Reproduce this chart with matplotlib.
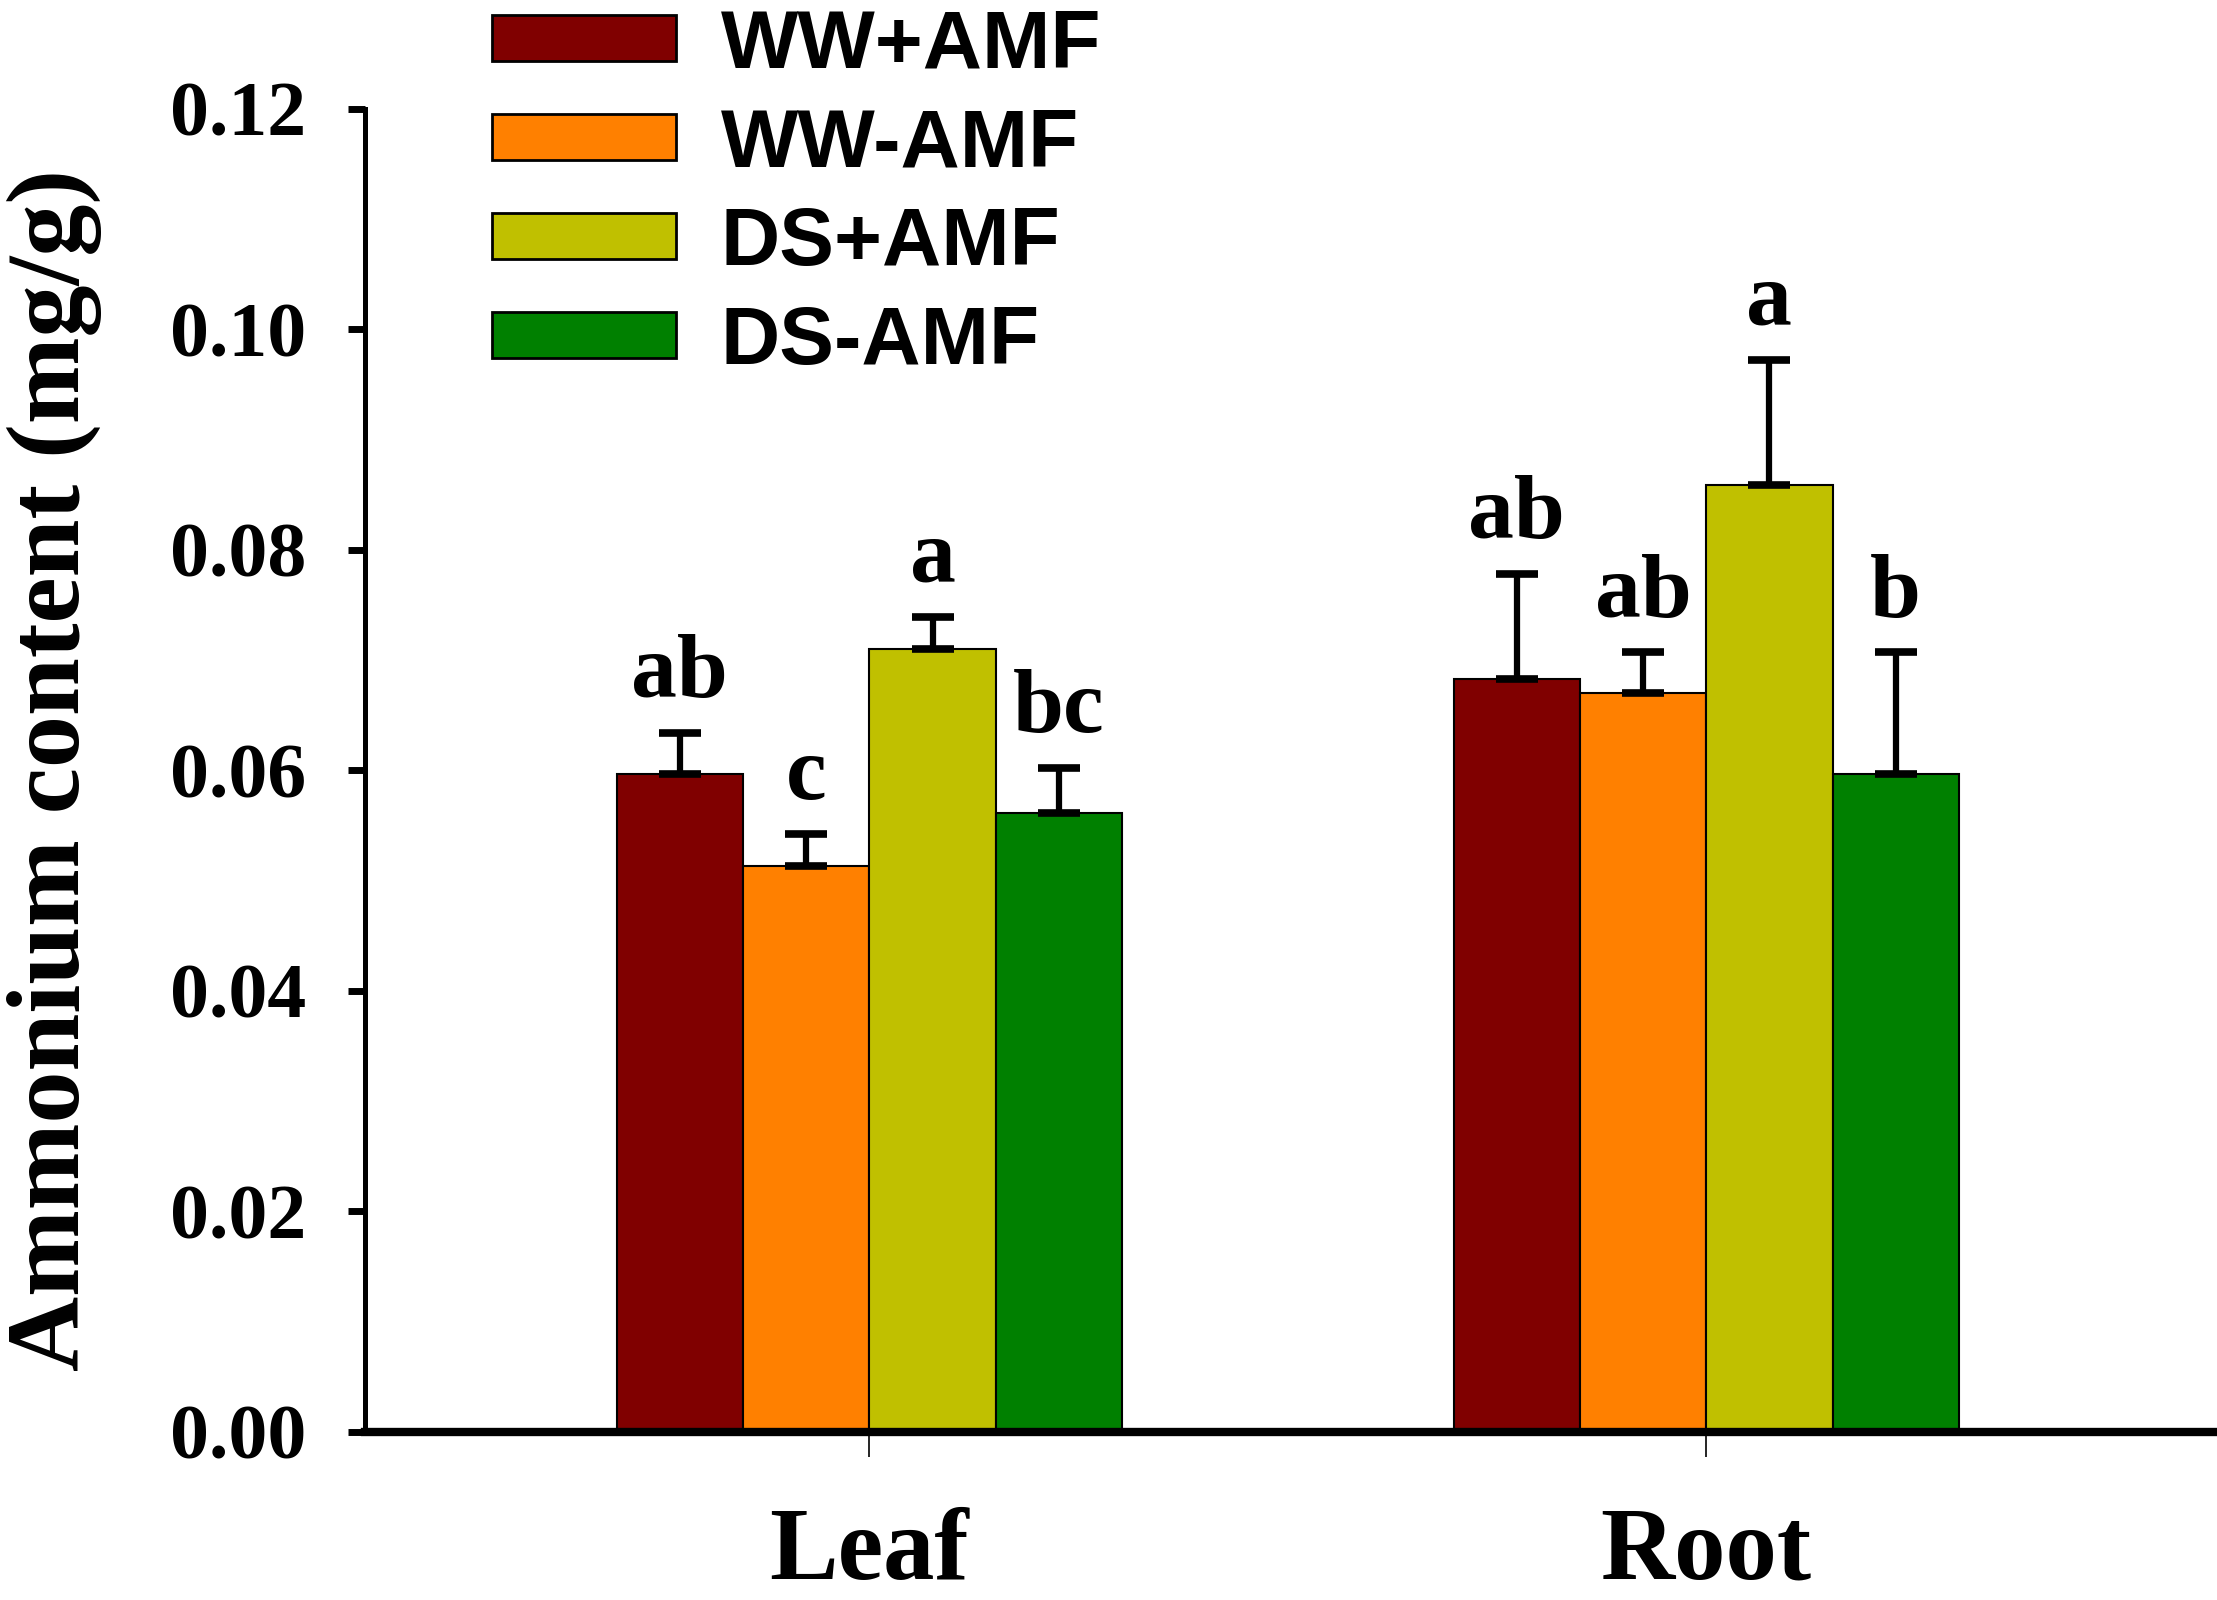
import numpy as np
import matplotlib
matplotlib.use("Agg")
import matplotlib.pyplot as plt

# data
organs = ["Leaf", "Root"]
treatments = ["WW+AMF", "WW-AMF", "DS+AMF", "DS-AMF"]
colors = ["#800000", "#FF8000", "#C0C000", "#008000"]

ww_amf = [0.0597, 0.0683]
ww_noamf = [0.0513, 0.0670]
ds_amf = [0.0710, 0.0859]
ds_noamf = [0.0561, 0.0597]

ww_amf_err = [0.0037, 0.0095]
ww_noamf_err = [0.0029, 0.0037]
ds_amf_err = [0.0029, 0.0113]
ds_noamf_err = [0.0041, 0.0110]

ww_amf_sig = ["ab", "ab"]
ww_noamf_sig = ["c", "ab"]
ds_amf_sig = ["a", "a"]
ds_noamf_sig = ["bc", "b"]

means = [ww_amf, ww_noamf, ds_amf, ds_noamf]
errs = [ww_amf_err, ww_noamf_err, ds_amf_err, ds_noamf_err]
sigs = [ww_amf_sig, ww_noamf_sig, ds_amf_sig, ds_noamf_sig]

serif = "Liberation Serif"
sans = "Liberation Sans"

fig = plt.figure(figsize=(22.17, 16), dpi=100)
ax = fig.add_axes([0.1645, 0.1052, 0.8335, 0.8268])

x = np.arange(len(organs))
width = 0.151
offsets = (np.arange(len(treatments)) - 1.5) * width

for i, name in enumerate(treatments):
    pos = x + offsets[i]
    ax.bar(pos, means[i], width, color=colors[i], edgecolor="black",
           linewidth=1.5, label=name, zorder=2)
    lower = np.zeros(len(organs))
    ax.errorbar(pos, means[i], yerr=[lower, errs[i]], fmt="none",
                ecolor="black", elinewidth=4.5, capsize=15, capthick=5.5, zorder=3)
    for j in range(len(organs)):
        ax.annotate(sigs[i][j], (pos[j], means[i][j] + errs[i][j]),
                    xytext=(0, 12), textcoords="offset points",
                    ha="center", va="bottom", fontsize=66,
                    fontweight="bold", family=serif)

ax.set_xlim(-0.603, 1.605)
ax.set_ylim(0, 0.12)
ax.set_yticks(np.arange(0, 0.121, 0.02))
ax.set_yticklabels(["%.2f" % v for v in np.arange(0, 0.121, 0.02)])
ax.set_xticks(x)
ax.set_xticklabels(organs)

for lab in ax.get_yticklabels():
    lab.set_fontfamily(serif)
    lab.set_fontweight("bold")
    lab.set_fontsize(56)
for lab in ax.get_xticklabels():
    lab.set_fontfamily(serif)
    lab.set_fontweight("bold")
    lab.set_fontsize(74)

ax.tick_params(axis="y", direction="out", length=12, width=5, pad=30)
ax.tick_params(axis="x", direction="out", length=18, width=1.2, pad=36)

ax.spines["top"].set_visible(False)
ax.spines["right"].set_visible(False)
ax.spines["left"].set_linewidth(3.6)
ax.spines["bottom"].set_linewidth(6)

ax.set_ylabel("Ammonium content (mg/g)", fontsize=75, fontweight="bold",
              family=serif)
ax.yaxis.set_label_coords(-0.142, 0.5)

leg = ax.legend(loc="upper left", bbox_to_anchor=(0.218, 1.0),
                bbox_transform=fig.transFigure, frameon=False,
                prop={"family": sans, "weight": "bold", "size": 59},
                handlelength=2.25, handleheight=0.5, labelspacing=0.28,
                handletextpad=0.55, borderpad=0.1, borderaxespad=0)
for p in leg.get_patches():
    p.set_linewidth(2)

fig.savefig("out.png", dpi=100)
